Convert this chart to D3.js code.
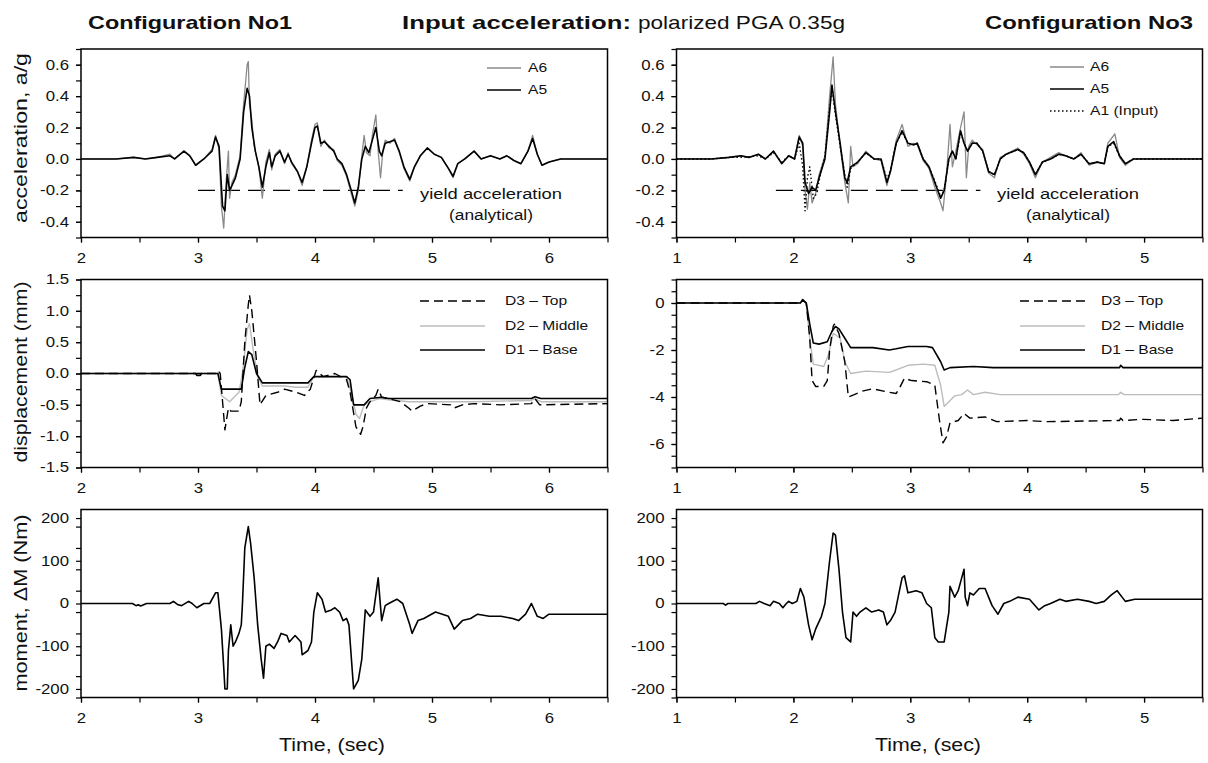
<!DOCTYPE html>
<meta charset="utf-8">
<style>
body { margin: 0; background: #fff; }
text { font-family: "Liberation Sans", Arial, sans-serif; fill: #111; }
.frame { fill: none; stroke: #000; stroke-width: 1.5px; }
.axis path { display: none; }
.axis line { stroke: #000; stroke-width: 1.2px; }
.axis text { font-size: 14px; fill: #111; }
.series { fill: none; stroke-linejoin: round; }
</style>
<body>
<svg id="chart"></svg>
<script src="https://d3js.org/d3.v7.min.js"></script>
<script>

var width = 1208, height = 763;
var SX = 1.2; // the scanned lettering is a bit wide

// tick labels
var xTicksC1 = [2, 3, 4, 5, 6],
    xTicksC3 = [1, 2, 3, 4, 5];
var accTicks = [-0.4, -0.2, 0, 0.2, 0.4, 0.6];
var dispTicksC1 = [-1.5, -1.0, -0.5, 0, 0.5, 1.0, 1.5];
var dispTicksC3 = [-6, -4, -2, 0];
var momTicks = [-200, -100, 0, 100, 200];

// Configuration No1 accelerations [time s, a/g]
var c1A5 = [[2.00,0],[2.30,0],[2.45,0.01],[2.55,0],[2.65,0.01],[2.76,0.02],[2.80,0],[2.88,0.05],[2.93,0.02],[2.98,-0.04],[3.05,0],[3.12,0.05],[3.15,0.14],[3.18,0.08],[3.21,-0.30],[3.23,-0.33],[3.25,-0.10],[3.27,-0.20],[3.29,-0.17],[3.32,-0.12],[3.36,0],[3.39,0.30],[3.42,0.45],[3.44,0.40],[3.46,0.20],[3.49,0.05],[3.52,-0.05],[3.55,-0.18],[3.58,-0.05],[3.61,0.04],[3.63,-0.05],[3.66,0.02],[3.70,0.05],[3.74,-0.02],[3.77,0.03],[3.80,-0.02],[3.85,-0.08],[3.89,-0.15],[3.93,-0.05],[3.97,0.10],[4.00,0.20],[4.02,0.21],[4.05,0.10],[4.08,0.11],[4.12,0.08],[4.16,0.05],[4.19,0],[4.23,-0.03],[4.27,-0.10],[4.31,-0.20],[4.34,-0.28],[4.37,-0.18],[4.40,0],[4.43,0.08],[4.46,0.04],[4.49,0.12],[4.52,0.20],[4.55,0.05],[4.57,0.02],[4.60,0.10],[4.64,0.11],[4.68,0.12],[4.72,0.05],[4.76,-0.05],[4.81,-0.13],[4.85,-0.05],[4.90,0.02],[4.96,0.07],[5.02,0.03],[5.08,0.01],[5.14,-0.06],[5.18,-0.11],[5.22,-0.03],[5.28,0],[5.36,0.05],[5.42,0],[5.50,0.02],[5.58,0],[5.64,0.02],[5.70,-0.01],[5.76,-0.03],[5.82,0.05],[5.86,0.13],[5.90,0.03],[5.94,-0.04],[6.00,-0.02],[6.10,0],[6.30,0],[6.50,0]];
var c1A6 = [[2.00,0],[2.30,0],[2.45,0.01],[2.55,0],[2.65,0.01],[2.76,0.03],[2.80,0],[2.88,0.05],[2.93,0.02],[2.98,-0.04],[3.05,0],[3.12,0.06],[3.15,0.15],[3.18,0.06],[3.20,-0.30],[3.22,-0.44],[3.24,-0.15],[3.26,0.05],[3.27,-0.25],[3.29,-0.15],[3.32,-0.10],[3.36,0.02],[3.39,0.35],[3.42,0.60],[3.43,0.62],[3.44,0.35],[3.46,0.25],[3.48,0.08],[3.52,-0.05],[3.55,-0.25],[3.58,-0.02],[3.61,0.06],[3.63,-0.07],[3.66,0.03],[3.70,0.06],[3.74,-0.03],[3.77,0.04],[3.80,-0.03],[3.85,-0.08],[3.89,-0.17],[3.93,-0.05],[3.97,0.12],[4.00,0.22],[4.02,0.23],[4.05,0.08],[4.08,0.12],[4.12,0.07],[4.16,0.06],[4.19,-0.01],[4.23,-0.04],[4.27,-0.11],[4.31,-0.22],[4.34,-0.30],[4.37,-0.20],[4.40,0.02],[4.42,0.15],[4.44,0.04],[4.47,0.02],[4.49,0.15],[4.52,0.28],[4.54,0.05],[4.56,-0.12],[4.58,0.05],[4.60,0.12],[4.64,0.10],[4.68,0.13],[4.72,0.04],[4.76,-0.06],[4.81,-0.14],[4.85,-0.05],[4.90,0.02],[4.96,0.07],[5.02,0.03],[5.08,0.01],[5.14,-0.06],[5.18,-0.12],[5.22,-0.03],[5.28,0],[5.36,0.05],[5.42,0],[5.50,0.02],[5.58,0],[5.64,0.02],[5.70,-0.01],[5.76,-0.03],[5.82,0.05],[5.86,0.15],[5.90,0.03],[5.94,-0.04],[6.00,-0.02],[6.10,0],[6.30,0],[6.50,0]];
var c1Yield = [[3.0,-0.2],[4.75,-0.2]];

// Configuration No3 accelerations
var c3A5 = [[1.00,0],[1.30,0],[1.45,0.01],[1.55,0.02],[1.62,0.01],[1.70,0.03],[1.76,0],[1.83,0.05],[1.90,-0.03],[1.96,0.02],[2.01,0],[2.05,0.14],[2.08,0.10],[2.10,-0.15],[2.13,-0.22],[2.16,-0.18],[2.19,-0.20],[2.22,-0.12],[2.27,0],[2.31,0.30],[2.33,0.47],[2.36,0.30],[2.40,0.10],[2.44,-0.12],[2.46,-0.15],[2.49,-0.05],[2.55,-0.02],[2.62,0.04],[2.69,0],[2.75,0],[2.80,-0.15],[2.83,-0.08],[2.88,0.10],[2.93,0.18],[2.98,0.10],[3.03,0.09],[3.06,0.10],[3.11,0],[3.16,-0.05],[3.21,-0.15],[3.26,-0.25],[3.29,-0.20],[3.33,0],[3.36,0.05],[3.39,0],[3.43,0.18],[3.46,0.10],[3.49,0.05],[3.53,0.10],[3.57,0.10],[3.62,0.05],[3.67,-0.08],[3.72,-0.10],[3.77,0],[3.82,0.03],[3.92,0.06],[3.97,0.04],[4.02,-0.02],[4.07,-0.10],[4.13,-0.02],[4.20,0],[4.27,0.03],[4.33,0.02],[4.40,0],[4.46,0.03],[4.53,-0.03],[4.60,-0.02],[4.66,-0.03],[4.69,0.08],[4.74,0.11],[4.79,0.02],[4.84,-0.03],[4.91,0],[4.99,0],[5.50,0]];
var c3A6 = [[1.00,0],[1.30,0],[1.45,0.01],[1.55,0.02],[1.62,0.01],[1.70,0.03],[1.76,0],[1.83,0.05],[1.90,-0.03],[1.96,0.02],[2.01,0],[2.05,0.15],[2.08,0.08],[2.10,-0.20],[2.12,-0.32],[2.14,-0.15],[2.16,-0.28],[2.19,-0.22],[2.22,-0.10],[2.27,0.02],[2.31,0.40],[2.34,0.65],[2.36,0.35],[2.40,0.08],[2.44,-0.15],[2.47,-0.28],[2.49,0.08],[2.51,-0.05],[2.55,-0.03],[2.62,0.05],[2.69,0],[2.75,-0.01],[2.80,-0.17],[2.83,-0.08],[2.88,0.12],[2.93,0.22],[2.98,0.08],[3.03,0.10],[3.06,0.09],[3.11,-0.01],[3.16,-0.06],[3.21,-0.18],[3.26,-0.28],[3.28,-0.33],[3.31,-0.10],[3.34,0.22],[3.36,-0.05],[3.39,0.05],[3.43,0.20],[3.46,0.30],[3.48,-0.12],[3.50,0.08],[3.53,0.12],[3.57,0.09],[3.62,0.06],[3.67,-0.09],[3.72,-0.12],[3.77,0.01],[3.82,0.03],[3.92,0.07],[3.97,0.03],[4.02,-0.03],[4.07,-0.12],[4.13,-0.02],[4.20,0.01],[4.27,0.04],[4.33,0.02],[4.40,0],[4.46,0.04],[4.53,-0.04],[4.60,-0.02],[4.66,-0.03],[4.69,0.10],[4.75,0.16],[4.79,0.01],[4.84,-0.04],[4.91,0],[4.99,0],[5.50,0]];
var c3A1 = [[1.00,0],[1.30,0],[1.45,0.01],[1.55,0.01],[1.70,0.02],[1.76,0],[1.83,0.04],[1.90,-0.02],[1.96,0.02],[2.01,0],[2.05,0.10],[2.08,-0.05],[2.10,-0.33],[2.12,-0.12],[2.14,-0.05],[2.17,-0.25],[2.20,-0.22],[2.23,-0.10],[2.27,0.02],[2.31,0.32],[2.33,0.45],[2.36,0.28],[2.40,0.08],[2.44,-0.10],[2.46,-0.18],[2.49,-0.06],[2.55,-0.02],[2.62,0.04],[2.69,0],[2.75,0],[2.80,-0.13],[2.83,-0.07],[2.88,0.10],[2.93,0.17],[2.98,0.10],[3.03,0.09],[3.06,0.10],[3.11,0],[3.16,-0.05],[3.21,-0.14],[3.26,-0.24],[3.29,-0.20],[3.33,0],[3.36,0.05],[3.39,0],[3.43,0.17],[3.46,0.10],[3.49,0.05],[3.53,0.10],[3.57,0.10],[3.62,0.05],[3.67,-0.08],[3.72,-0.10],[3.77,0],[3.82,0.03],[3.92,0.06],[3.97,0.04],[4.02,-0.02],[4.07,-0.10],[4.13,-0.02],[4.20,0],[4.27,0.03],[4.33,0.02],[4.40,0],[4.46,0.03],[4.53,-0.03],[4.60,-0.02],[4.66,-0.03],[4.69,0.08],[4.74,0.10],[4.79,0.02],[4.84,-0.03],[4.91,0],[4.99,0],[5.50,0]];
var c3Yield = [[1.85,-0.2],[3.6,-0.2]];

// displacements [time s, mm]
var c1D1 = [[2.00,0],[2.98,0],[2.99,-0.03],[3.02,-0.03],[3.03,0],[3.17,0],[3.20,-0.25],[3.37,-0.25],[3.40,0.10],[3.43,0.35],[3.46,0.30],[3.50,0],[3.55,-0.15],[3.94,-0.15],[3.99,-0.05],[4.27,-0.05],[4.30,-0.10],[4.33,-0.50],[4.42,-0.50],[4.47,-0.40],[4.57,-0.38],[4.63,-0.40],[5.85,-0.40],[5.88,-0.37],[5.93,-0.40],[6.50,-0.40]];
var c1D2 = [[2.00,0],[3.17,0],[3.20,-0.35],[3.27,-0.45],[3.35,-0.30],[3.38,0],[3.42,0.70],[3.44,0.80],[3.47,0.40],[3.51,-0.05],[3.55,-0.20],[3.74,-0.20],[3.84,-0.22],[3.94,-0.22],[3.99,-0.05],[4.27,-0.05],[4.31,-0.30],[4.35,-0.65],[4.38,-0.72],[4.42,-0.50],[4.47,-0.45],[4.55,-0.40],[4.63,-0.42],[4.80,-0.45],[4.96,-0.45],[5.36,-0.45],[5.85,-0.43],[5.88,-0.40],[5.93,-0.45],[6.50,-0.45]];
var c1D3 = [[2.00,0],[3.15,0],[3.17,0.05],[3.19,0],[3.21,-0.45],[3.23,-0.90],[3.26,-0.55],[3.28,-0.60],[3.35,-0.60],[3.37,-0.45],[3.40,0.50],[3.43,1.10],[3.44,1.25],[3.46,1.00],[3.50,0.20],[3.53,-0.50],[3.58,-0.35],[3.68,-0.30],[3.74,-0.25],[3.84,-0.30],[3.91,-0.35],[3.96,-0.25],[4.01,0.05],[4.07,-0.05],[4.17,0],[4.27,-0.10],[4.30,-0.30],[4.35,-0.85],[4.39,-0.97],[4.41,-0.85],[4.44,-0.55],[4.47,-0.45],[4.52,-0.35],[4.54,-0.25],[4.57,-0.38],[4.63,-0.40],[4.73,-0.45],[4.80,-0.55],[4.83,-0.60],[4.90,-0.52],[4.96,-0.48],[5.16,-0.50],[5.19,-0.55],[5.26,-0.50],[5.36,-0.48],[5.59,-0.50],[5.85,-0.48],[5.88,-0.40],[5.92,-0.50],[6.50,-0.48]];
var c3D1 = [[1.00,0],[2.06,0],[2.08,0.15],[2.11,0],[2.14,-0.9],[2.17,-1.70],[2.22,-1.75],[2.29,-1.65],[2.33,-1.20],[2.36,-1.00],[2.39,-1.10],[2.44,-1.50],[2.49,-1.90],[2.68,-1.90],[2.82,-2.00],[2.88,-1.95],[2.98,-1.85],[3.14,-1.85],[3.19,-1.90],[3.26,-2.50],[3.29,-2.85],[3.34,-2.75],[3.54,-2.70],[3.71,-2.75],[4.79,-2.75],[4.80,-2.65],[4.82,-2.75],[5.50,-2.75]];
var c3D2 = [[1.00,0],[2.06,0],[2.08,0.10],[2.11,0],[2.14,-1.5],[2.17,-2.60],[2.26,-2.70],[2.30,-2.20],[2.34,-1.30],[2.36,-1.35],[2.40,-1.50],[2.44,-2.50],[2.49,-3.00],[2.62,-2.90],[2.82,-2.95],[2.88,-2.85],[2.98,-2.65],[3.11,-2.60],[3.21,-2.65],[3.26,-3.50],[3.29,-4.40],[3.33,-4.20],[3.38,-3.95],[3.44,-3.90],[3.49,-3.70],[3.54,-3.90],[3.64,-3.80],[3.77,-3.90],[4.78,-3.90],[4.80,-3.80],[4.83,-3.90],[5.50,-3.90]];
var c3D3 = [[1.00,0],[2.06,0],[2.08,0.10],[2.11,0],[2.14,-1.5],[2.16,-3.30],[2.19,-3.55],[2.26,-3.55],[2.29,-3.30],[2.31,-2.00],[2.34,-1.00],[2.35,-0.90],[2.39,-1.30],[2.44,-2.50],[2.47,-4.00],[2.52,-3.90],[2.59,-3.75],[2.68,-3.65],[2.82,-3.80],[2.88,-3.85],[2.91,-3.60],[2.95,-3.20],[3.01,-3.30],[3.14,-3.35],[3.21,-3.50],[3.25,-5.00],[3.28,-5.95],[3.31,-5.70],[3.34,-5.10],[3.41,-5.00],[3.46,-4.70],[3.51,-4.90],[3.64,-4.85],[3.74,-5.05],[4.00,-5.00],[4.16,-5.05],[4.79,-5.00],[4.80,-4.90],[4.82,-5.00],[4.99,-4.95],[5.25,-5.00],[5.50,-4.90]];

// moments [time s, Nm]
var c1M = [[2.00,0],[2.44,0],[2.47,-5],[2.49,-3],[2.51,-6],[2.56,0],[2.76,0],[2.79,5],[2.83,-3],[2.86,-5],[2.92,5],[2.95,0],[2.99,-10],[3.05,0],[3.10,0],[3.15,25],[3.17,25],[3.20,-60],[3.22,-150],[3.23,-200],[3.25,-200],[3.26,-110],[3.28,-50],[3.30,-100],[3.32,-90],[3.35,-70],[3.37,-50],[3.38,0],[3.40,130],[3.43,180],[3.45,140],[3.48,60],[3.51,-50],[3.54,-130],[3.56,-175],[3.58,-100],[3.61,-95],[3.65,-105],[3.68,-90],[3.71,-70],[3.76,-75],[3.78,-90],[3.83,-75],[3.88,-90],[3.89,-120],[3.94,-110],[3.97,-90],[3.99,-20],[4.02,25],[4.06,10],[4.09,-20],[4.14,-15],[4.17,-10],[4.21,-20],[4.24,-40],[4.27,-35],[4.29,-50],[4.33,-200],[4.37,-180],[4.40,-130],[4.43,-15],[4.47,-30],[4.50,-20],[4.54,60],[4.57,-40],[4.60,-5],[4.63,0],[4.70,10],[4.75,0],[4.81,-50],[4.83,-70],[4.88,-40],[4.93,-35],[5.03,-20],[5.14,-30],[5.19,-60],[5.26,-40],[5.33,-35],[5.39,-25],[5.49,-30],[5.59,-30],[5.69,-35],[5.74,-40],[5.80,-25],[5.85,0],[5.90,-30],[5.95,-35],[6.00,-25],[6.50,-25]];
var c3M = [[1.00,0],[1.40,0],[1.42,-4],[1.44,0],[1.68,0],[1.71,5],[1.75,0],[1.80,-5],[1.83,5],[1.88,0],[1.91,-10],[1.94,0],[1.96,5],[1.99,0],[2.03,5],[2.06,35],[2.09,15],[2.13,-50],[2.16,-85],[2.19,-60],[2.24,-30],[2.27,0],[2.31,100],[2.34,165],[2.36,160],[2.39,80],[2.42,-20],[2.45,-80],[2.49,-90],[2.51,-20],[2.54,-30],[2.57,-20],[2.62,-10],[2.67,-20],[2.73,-15],[2.77,-20],[2.80,-50],[2.83,-40],[2.87,-20],[2.90,20],[2.93,60],[2.95,65],[2.98,25],[3.05,30],[3.10,25],[3.14,0],[3.18,-10],[3.21,-80],[3.24,-90],[3.29,-90],[3.33,-20],[3.34,40],[3.38,15],[3.41,30],[3.44,60],[3.46,80],[3.47,15],[3.49,-5],[3.51,25],[3.54,20],[3.59,35],[3.64,35],[3.67,15],[3.70,-5],[3.75,-25],[3.80,0],[3.85,5],[3.92,15],[4.02,10],[4.10,-15],[4.15,-5],[4.20,0],[4.28,10],[4.33,5],[4.43,10],[4.53,5],[4.59,0],[4.66,5],[4.72,20],[4.77,30],[4.84,5],[4.92,10],[5.02,10],[5.50,10]];

var svg = d3.select("#chart")
    .attr("width", width)
    .attr("height", height);

var cols = [{left: 81, right: 607.5}, {left: 676.5, right: 1202.5}];
var rows = [{top: 49, bottom: 237.5}, {top: 279.5, bottom: 467.5}, {top: 509.5, bottom: 697.5}];

var styles = {
  black:  {stroke: "#000", width: 1.6},
  gray:   {stroke: "#8a8a8a", width: 1.3},
  dotted: {stroke: "#000", width: 1.4, dash: "1.5,2.5"},
  light:  {stroke: "#bcbcbc", width: 1.4},
  dashed: {stroke: "#000", width: 1.4, dash: "9,5"},
  yield:  {stroke: "#000", width: 1.2, dash: "17,8"}
};

function stretch(sel) {
  sel.each(function() {
    var t = d3.select(this), x = +t.attr("x") || 0;
    t.attr("transform", "translate(" + x + ",0)scale(" + SX + ",1)translate(" + (-x) + ",0)");
  });
}

function label(parent, s, x, y, o) {
  var t = parent.append("text").attr("x", x).attr("y", y).text(s)
      .style("font-size", o.size + "px")
      .attr("text-anchor", o.anchor || "start");
  if (o.bold) t.style("font-weight", "bold");
  if (o.len) t.attr("textLength", o.len).attr("lengthAdjust", "spacingAndGlyphs");
  else stretch(t);
  return t;
}

var clipId = 0;
function panel(c, r, cfg) {
  var col = cols[c], row = rows[r];
  var x = d3.scaleLinear().domain(cfg.xDomain).range([col.left, col.right]);
  var y = d3.scaleLinear().domain(cfg.yDomain).range([row.bottom, row.top]);
  var g = svg.append("g");

  var xMinor = d3.range(cfg.xDomain[0], cfg.xDomain[1] + 1e-6, 0.5);
  g.append("g").attr("class", "axis")
      .attr("transform", "translate(0," + row.bottom + ")")
      .call(d3.axisBottom(x).tickValues(xMinor).tickSize(5).tickFormat(""));
  g.append("g").attr("class", "axis")
      .attr("transform", "translate(0," + row.bottom + ")")
      .call(d3.axisBottom(x).tickValues(cfg.xTicks).tickSize(5).tickPadding(11).tickFormat(d3.format("d")));

  var yMinor = d3.range(cfg.yDomain[0], cfg.yDomain[1] + 1e-6, cfg.yMinorStep);
  g.append("g").attr("class", "axis")
      .attr("transform", "translate(" + col.left + ",0)")
      .call(d3.axisLeft(y).tickValues(yMinor).tickSize(5).tickFormat(""));
  g.append("g").attr("class", "axis")
      .attr("transform", "translate(" + col.left + ",0)")
      .call(d3.axisLeft(y).tickValues(cfg.yTicks).tickSize(5).tickPadding(7).tickFormat(cfg.fmt));

  g.selectAll(".axis text").call(stretch);

  var id = "clip" + (clipId++);
  g.append("clipPath").attr("id", id).append("rect")
      .attr("x", col.left).attr("y", row.top)
      .attr("width", col.right - col.left).attr("height", row.bottom - row.top);

  var line = d3.line().x(function(d) { return x(d[0]); }).y(function(d) { return y(d[1]); });
  var plot = g.append("g").attr("clip-path", "url(#" + id + ")");
  cfg.series.forEach(function(s) {
    var st = styles[s.style];
    plot.append("path").datum(s.data)
        .attr("class", "series")
        .attr("d", line)
        .attr("stroke", st.stroke)
        .attr("stroke-width", st.width)
        .attr("stroke-dasharray", st.dash || null);
  });

  g.append("rect").attr("class", "frame")
      .attr("x", col.left).attr("y", row.top)
      .attr("width", col.right - col.left).attr("height", row.bottom - row.top);

  return {g: g, x: x, y: y};
}

function legend(g, items, x1, x2, tx, ys) {
  items.forEach(function(it, i) {
    var st = styles[it.style];
    g.append("line").attr("x1", x1).attr("x2", x2).attr("y1", ys[i]).attr("y2", ys[i])
        .attr("stroke", st.stroke).attr("stroke-width", st.width)
        .attr("stroke-dasharray", st.dash || null);
    label(g, it.name, tx, ys[i] + 4.5, {size: 13});
  });
}

var fmt1 = function(d) { return d.toFixed(1); },
    fmt0 = function(d) { return d.toFixed(0); };

// row 1: accelerations
var p1 = panel(0, 0, {xDomain: [2, 6.5], xTicks: xTicksC1, yDomain: [-0.5, 0.7], yTicks: accTicks, yMinorStep: 0.1, fmt: fmt1,
  series: [{data: c1Yield, style: "yield"}, {data: c1A6, style: "gray"}, {data: c1A5, style: "black"}]});
var p2 = panel(1, 0, {xDomain: [1, 5.5], xTicks: xTicksC3, yDomain: [-0.5, 0.7], yTicks: accTicks, yMinorStep: 0.1, fmt: fmt1,
  series: [{data: c3Yield, style: "yield"}, {data: c3A6, style: "gray"}, {data: c3A5, style: "black"}, {data: c3A1, style: "dotted"}]});

// row 2: displacements
var p3 = panel(0, 1, {xDomain: [2, 6.5], xTicks: xTicksC1, yDomain: [-1.5, 1.5], yTicks: dispTicksC1, yMinorStep: 0.25, fmt: fmt1,
  series: [{data: c1D2, style: "light"}, {data: c1D1, style: "black"}, {data: c1D3, style: "dashed"}]});
var p4 = panel(1, 1, {xDomain: [1, 5.5], xTicks: xTicksC3, yDomain: [-7, 1], yTicks: dispTicksC3, yMinorStep: 0.5, fmt: fmt0,
  series: [{data: c3D2, style: "light"}, {data: c3D1, style: "black"}, {data: c3D3, style: "dashed"}]});

// row 3: moments
var p5 = panel(0, 2, {xDomain: [2, 6.5], xTicks: xTicksC1, yDomain: [-220, 220], yTicks: momTicks, yMinorStep: 50, fmt: fmt0,
  series: [{data: c1M, style: "black"}]});
var p6 = panel(1, 2, {xDomain: [1, 5.5], xTicks: xTicksC3, yDomain: [-220, 220], yTicks: momTicks, yMinorStep: 50, fmt: fmt0,
  series: [{data: c3M, style: "black"}]});

// legends
legend(p1.g, [{name: "A6", style: "gray"}, {name: "A5", style: "black"}], 487, 521, 528, [68, 90]);
legend(p2.g, [{name: "A6", style: "gray"}, {name: "A5", style: "black"}, {name: "A1 (Input)", style: "dotted"}], 1050, 1084, 1090, [67, 89, 111]);
var dispItems = [{name: "D3 \u2013 Top", style: "dashed"}, {name: "D2 \u2013 Middle", style: "light"}, {name: "D1 \u2013 Base", style: "black"}];
legend(p3.g, dispItems, 420, 485, 505, [301, 326, 350]);
legend(p4.g, dispItems, 1020, 1085, 1101, [301, 326, 350]);

// yield annotation
label(p1.g, "yield acceleration", 491, 199, {size: 14, anchor: "middle", len: 142});
label(p1.g, "(analytical)", 491, 220, {size: 14, anchor: "middle", len: 84});
label(p2.g, "yield acceleration", 1068, 199, {size: 14, anchor: "middle", len: 142});
label(p2.g, "(analytical)", 1068, 220, {size: 14, anchor: "middle", len: 84});

// titles
label(svg, "Configuration No1", 190, 29, {size: 19, bold: true, anchor: "middle", len: 204});
label(svg, "Configuration No3", 1089, 29, {size: 19, bold: true, anchor: "middle", len: 208});
label(svg, "Input acceleration:", 402, 29, {size: 19, bold: true, len: 229});
label(svg, "polarized PGA 0.35g", 638, 29, {size: 19, len: 207});

// x titles
label(svg, "Time, (sec)", 332, 751, {size: 18, anchor: "middle", len: 106});
label(svg, "Time, (sec)", 928, 751, {size: 18, anchor: "middle", len: 106});

// y titles
[["acceleration, a/g", 138, 170], ["displacement (mm)", 372, 181], ["moment, \u0394M (Nm)", 603, 177]].forEach(function(d) {
  svg.append("text")
      .attr("transform", "translate(27," + d[1] + ")rotate(-90)")
      .attr("text-anchor", "middle")
      .attr("textLength", d[2]).attr("lengthAdjust", "spacingAndGlyphs")
      .style("font-size", "19px")
      .text(d[0]);
});

</script>
